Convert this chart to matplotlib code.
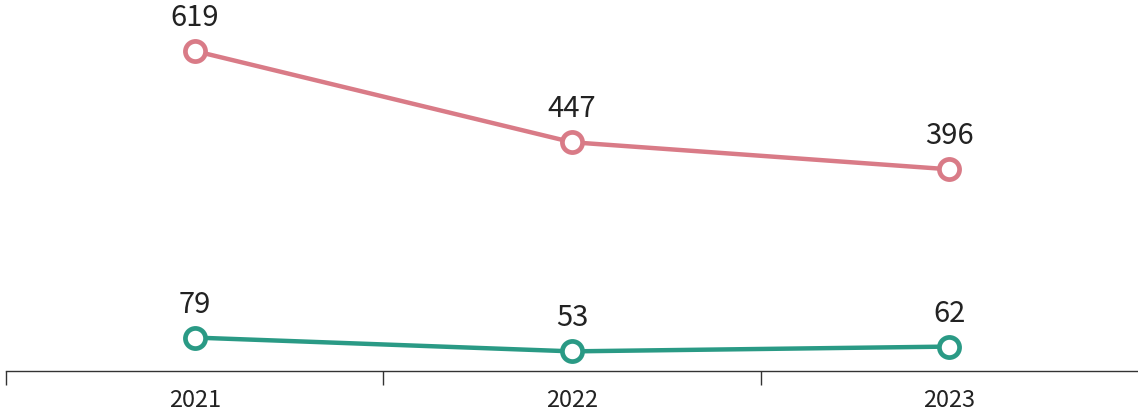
import matplotlib.pyplot as plt

plt.rcParams['font.family'] = ['Noto Sans CJK JP', 'DejaVu Sans']

years = ["2021", "2022", "2023"]
pink_vals = [619, 447, 396]
green_vals = [79, 53, 62]

PINK = "#d97b87"
GREEN = "#2a9a85"

fig = plt.figure(figsize=(11.38, 4.13), dpi=100)
ax = fig.add_axes([6 / 1138, 42 / 413, 1 - 6 / 1138, 371 / 413])

x = list(range(len(years)))
for vals, color in [(pink_vals, PINK), (green_vals, GREEN)]:
    ax.plot(x, vals, color=color, linewidth=3.2, marker="o", markersize=14.5,
            markerfacecolor="white", markeredgecolor=color, markeredgewidth=3.4,
            clip_on=False, zorder=3)
    for xi, v in zip(x, vals):
        ax.annotate(str(v), (xi, v), xytext=(0, 13), textcoords="offset points",
                    ha="center", va="bottom", fontsize=21, color="#222222")

ax.set_xlim(-0.5, 2.5)
ax.set_ylim(16, 715)
ax.set_yticks([])
ax.set_xticks(x)
ax.set_xticklabels(years, fontsize=17, color="#222222")
ax.tick_params(axis="x", which="major", length=0, pad=13)
ax.set_xticks([-0.5, 0.5, 1.5], minor=True)
ax.tick_params(axis="x", which="minor", length=10, width=1, color="#333333", direction="out")

for side in ["top", "left", "right"]:
    ax.spines[side].set_visible(False)
ax.spines["bottom"].set_color("#333333")
ax.spines["bottom"].set_linewidth(1)
ax.patch.set_alpha(0)

fig.savefig("out.png", dpi=100)
